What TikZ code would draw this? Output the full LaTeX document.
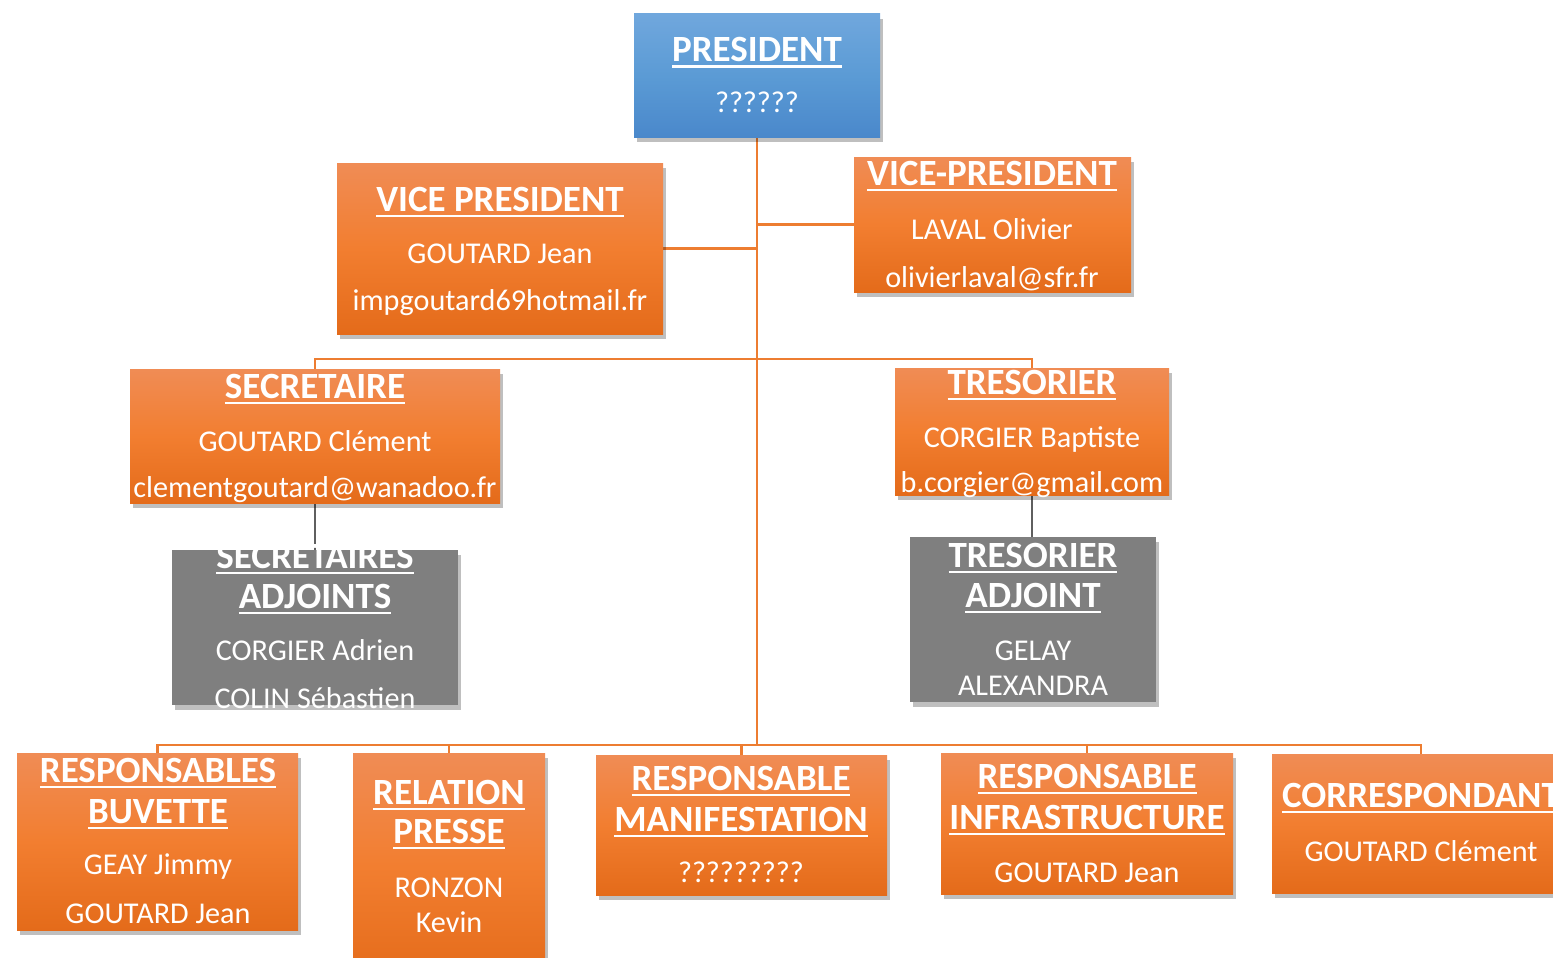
\documentclass[tikz,border=0pt]{standalone}
\usepackage{fontspec}
\setmainfont{Carlito}
\usetikzlibrary{shadows}
\definecolor{orT}{HTML}{F08C55}
\definecolor{orM}{HTML}{F27E30}
\definecolor{orB}{HTML}{E46B1A}
\definecolor{orL}{HTML}{ED7D31}
\definecolor{blT}{HTML}{70A7DD}
\definecolor{blM}{HTML}{5B9BD5}
\definecolor{blB}{HTML}{4A88CB}
\definecolor{grF}{HTML}{7F7F7F}
\definecolor{grL}{HTML}{5F5F5F}
\newcommand\ttlfont{\fontsize{37}{44}\selectfont\bfseries}
\newcommand\bdyfont{\fontsize{30.2}{36}\selectfont}
\newcommand\myul[1]{\setbox0\hbox{#1}\leavevmode\rlap{\rule[-6pt]{\wd0}{2.5pt}}\box0}
\pgfdeclarelayer{bg}
\pgfsetlayers{bg,main}
\tikzset{
  shad/.style={drop shadow={shadow xshift=2.5pt, shadow yshift=-5pt, fill=black, opacity=0.25}},
  obox/.style={rectangle, inner sep=0pt, top color=orT, bottom color=orB, middle color=orM, shad},
  gbox/.style={rectangle, inner sep=0pt, fill=grF, shad},
  bbox/.style={rectangle, inner sep=0pt, top color=blT, bottom color=blB, middle color=blM, shad},
  ttl/.style={anchor=base, text=white, font=\ttlfont, inner sep=0pt},
  bdy/.style={anchor=base, text=white, font=\bdyfont, inner sep=0pt},
  conn/.style={draw=orL, line width=2.8pt},
  gconn/.style={draw=grL, line width=2.4pt}
}
\begin{document}
\begin{tikzpicture}[x=1pt,y=-1pt]
\useasboundingbox (0,0) rectangle (1553,958);
\clip (0,0) rectangle (1553,958);
% boxes
\node[bbox, minimum width=246, minimum height=123] (P) at (757,75.5) {};
\node[obox, minimum width=326, minimum height=171] (VPL) at (500,248.5) {};
\node[obox, minimum width=277, minimum height=135] (VPR) at (992.5,224.5) {};
\node[obox, minimum width=370, minimum height=134] (SEC) at (315,436) {};
\node[gbox, minimum width=286, minimum height=155] (SECA) at (315,627.5) {};
\node[obox, minimum width=274, minimum height=127] (TRE) at (1032,431.5) {};
\node[gbox, minimum width=246, minimum height=165] (TREA) at (1033,619.5) {};
\node[obox, minimum width=281, minimum height=177] (BUV) at (157.5,841.5) {};
\node[obox, minimum width=192, minimum height=227] (REL) at (449,866.5) {};
\node[obox, minimum width=291, minimum height=140] (MAN) at (741.5,825) {};
\node[obox, minimum width=292, minimum height=141] (INF) at (1087,823.5) {};
\node[obox, minimum width=298, minimum height=139] (COR) at (1421,823.5) {};
% texts
\node[ttl] (Pt) at (757,62) {\myul{PRESIDENT}};
\node[bdy] (Pn) at (757,112) {??????};
\node[ttl] (VPLt) at (500,211) {\myul{VICE PRESIDENT}};
\node[bdy] (VPLn) at (500,263) {GOUTARD Jean};
\node[bdy] (VPLm) at (500,310) {impgoutard69hotmail.fr};
\node[ttl] (VPRt) at (992,185) {\myul{VICE-PRESIDENT}};
\node[bdy] (VPRn) at (992,239) {LAVAL Olivier};
\node[bdy] (VPRm) at (992,287) {olivierlaval@sfr.fr};
\node[ttl] (SECt) at (315,398) {\myul{SECRETAIRE}};
\node[bdy] (SECn) at (315,451) {GOUTARD Clément};
\node[bdy] (SECm) at (315,497) {clementgoutard@wanadoo.fr};
\node[ttl] (SECAt) at (315,568) {\myul{SECRETAIRES}};
\node[ttl] (SECAu) at (315,608) {\myul{ADJOINTS}};
\node[bdy] (SECAn) at (315,660) {CORGIER Adrien};
\node[bdy] (SECAm) at (315,708) {COLIN Sébastien};
\node[ttl] (TREt) at (1032,394) {\myul{TRESORIER}};
\node[bdy] (TREn) at (1032,447) {CORGIER Baptiste};
\node[bdy] (TREm) at (1032,492) {b.corgier@gmail.com};
\node[ttl] (TREAt) at (1033,567) {\myul{TRESORIER}};
\node[ttl] (TREAu) at (1033,607) {\myul{ADJOINT}};
\node[bdy] (TREAn) at (1033,660) {GELAY};
\node[bdy] (TREAm) at (1033,695) {ALEXANDRA};
\node[ttl] (BUVt) at (158,782) {\myul{RESPONSABLES}};
\node[ttl] (BUVu) at (158,823) {\myul{BUVETTE}};
\node[bdy] (BUVn) at (158,874) {GEAY Jimmy};
\node[bdy] (BUVm) at (158,923) {GOUTARD Jean};
\node[ttl] (RELt) at (449,804) {\myul{RELATION}};
\node[ttl] (RELu) at (449,843) {\myul{PRESSE}};
\node[bdy] (RELn) at (449,897) {RONZON};
\node[bdy] (RELm) at (449,932) {Kevin};
\node[ttl] (MANt) at (741,790) {\myul{RESPONSABLE}};
\node[ttl] (MANu) at (741,831) {\myul{MANIFESTATION}};
\node[bdy] (MANn) at (741,882) {?????????};
\node[ttl] (INFt) at (1087,788) {\myul{RESPONSABLE}};
\node[ttl] (INFu) at (1087,829) {\myul{INFRASTRUCTURE}};
\node[bdy] (INFn) at (1087,882) {GOUTARD Jean};
\node[ttl] (CORt) at (1421,807) {\myul{CORRESPONDANT}};
\node[bdy] (CORn) at (1421,861) {GOUTARD Clément};
% connectors
\coordinate (tb) at (757,359);
\coordinate (bb) at (757,745);
\begin{pgfonlayer}{bg}
\fill[white] (0,0) rectangle (1553,958);
\draw[conn] (P.south) -- (bb);
\draw[conn] (VPL.east) -- (VPL.east -| P.south);
\draw[conn] (VPR.west) -- (VPR.west -| P.south);
\draw[conn] (SEC.north) |- (tb);
\draw[conn] (TRE.north) |- (tb);
\draw[gconn] (SEC.south) -- (SECA.north);
\draw[gconn] (TRE.south) -- (TRE.south |- TREA.north);
\draw[conn] (BUV.north) |- (bb);
\draw[conn] (REL.north) |- (bb);
\draw[conn] (MAN.north) |- (bb);
\draw[conn] (INF.north) |- (bb);
\draw[conn] (COR.north) |- (bb);
\end{pgfonlayer}
\end{tikzpicture}
\end{document}
